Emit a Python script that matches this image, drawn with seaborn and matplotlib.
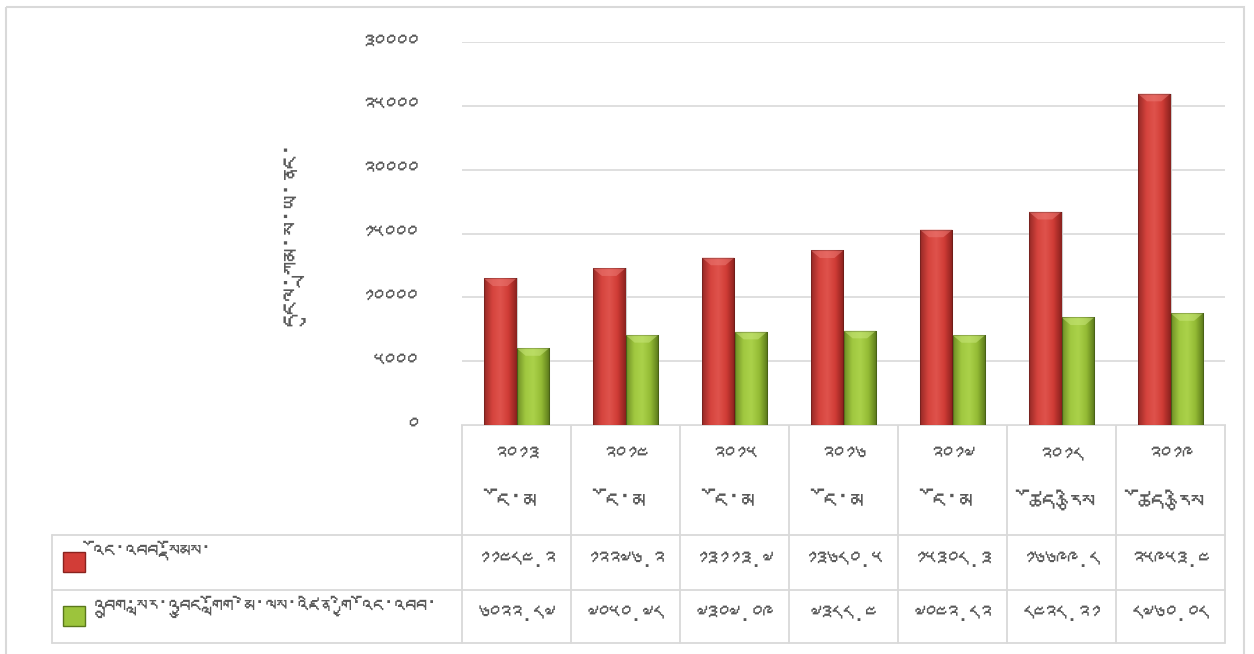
import numpy as np
import pandas as pd
import matplotlib
matplotlib.use("Agg")
import matplotlib.pyplot as plt
import seaborn as sns
from matplotlib import font_manager
from matplotlib.ft2font import FT2Font
from matplotlib.patches import Rectangle, Polygon
from matplotlib.colors import LinearSegmentedColormap
from matplotlib.ticker import FuncFormatter, MultipleLocator

# data (Nu. million)
years = ["༢༠༡༣", "༢༠༡༤", "༢༠༡༥", "༢༠༡༦", "༢༠༡༧", "༢༠༡༨", "༢༠༡༩"]
status = ["ངོ་མ", "ངོ་མ", "ངོ་མ", "ངོ་མ", "ངོ་མ", "ཚོད་རྩིས", "ཚོད་རྩིས"]
series_names = ["འོང་འབབ་སྡོམས་",
                "འབྲུག་སླར་འབྱུང་གློག་མེ་ལས་འཛིན་གྱི་འོང་འབབ་"]
total_revenue = [11484.2, 12276.2, 13113.7, 13680.5, 15308.3, 16699.8, 25953.4]
hydro_revenue = [6022.87, 7050.78, 7307.09, 7388.4, 7042.82, 8428.21, 8760.08]
y_label = "དངུལ་ཀྲམ་ས་ཡ་ནང་"

TIB = str.maketrans("0123456789", "༠༡༢༣༤༥༦༧༨༩")


def tibetan_family():
    # look for any installed font that has Tibetan letters
    for f in font_manager.fontManager.ttflist:
        try:
            if 0x0F40 in FT2Font(f.fname).get_charmap():
                return f.name
        except Exception:
            continue
    return None


df = pd.DataFrame({
    "year": years * 2,
    "value": total_revenue + hydro_revenue,
    "series": [series_names[0]] * len(years) + [series_names[1]] * len(years),
})

sns.set_style("white")
tib = tibetan_family()
fams = [tib, "DejaVu Sans"] if tib else ["DejaVu Sans"]
plt.rcParams["font.family"] = fams

W, H = 1254, 654
fig = plt.figure(figsize=(W / 100, H / 100), dpi=100)

# layout in pixels
plot_l, plot_r, plot_t, plot_b = 462, 1225, 42, 425
col_w = (plot_r - plot_l) / len(years)
ax = fig.add_axes([plot_l / W, 1 - plot_b / H, (plot_r - plot_l) / W, (plot_b - plot_t) / H])

red = "#d23d37"
green = "#9cc43c"
sns.barplot(data=df, x="year", y="value", hue="series", palette=[red, green],
            width=0.6, gap=0, legend=False, ax=ax, saturation=1)

shades = [["#962a26", "#d5433d", "#df534c", "#cf3b35", "#8a221e"],
          ["#6f8f25", "#a0c840", "#abd24a", "#93ba34", "#5a781b"]]
tops = ["#ec7a74", "#c8e67a"]
for cont, sh, top in zip(ax.containers, shades, tops):
    cmap = LinearSegmentedColormap.from_list("", sh)
    for bar in cont:
        x0, w, h = bar.get_x(), bar.get_width(), bar.get_height()
        img = ax.imshow(np.linspace(0, 1, 64).reshape(1, -1), cmap=cmap, aspect="auto",
                        extent=[x0, x0 + w, 0, h], zorder=3, interpolation="bicubic")
        img.set_clip_path(bar)
        d = 600
        ax.add_patch(Polygon([(x0, h), (x0 + w, h), (x0 + w * 0.72, h - d), (x0 + w * 0.28, h - d)],
                             closed=True, facecolor=top, edgecolor="none", alpha=0.55, zorder=4))
        ax.add_patch(Rectangle((x0, 0), w, h, facecolor="none", edgecolor="#00000033", lw=0.8, zorder=5))

ax.set_xlim(-0.5, len(years) - 0.5)
ax.set_ylim(0, 30000)
ax.yaxis.set_major_locator(MultipleLocator(5000))
ax.yaxis.set_major_formatter(FuncFormatter(lambda v, p: str(int(v)).translate(TIB)))
ax.yaxis.grid(True, color="#d9d9d9", lw=1.2)
ax.set_axisbelow(True)
ax.tick_params(axis="y", length=0, pad=32, labelsize=16, labelcolor="#595959")
ax.set_xticks([])
ax.set_xlabel("")
ax.set_ylabel(y_label, fontsize=19, color="#595959")
ax.yaxis.set_label_coords((305 - plot_l) / (plot_r - plot_l), 0.5)
sns.despine(ax=ax, left=True, bottom=True)

# data table in pixel coordinates
tab = fig.add_axes([0, 0, 1, 1], zorder=-1)
tab.set_xlim(0, W)
tab.set_ylim(H, 0)
tab.axis("off")
line = dict(color="#d9d9d9", lw=1.3)
row_y = [plot_b, 535, 590, 643]
leg_l = 52
tab.plot([plot_l, plot_r], [row_y[0], row_y[0]], **line)
for yy in row_y[1:]:
    tab.plot([leg_l, plot_r], [yy, yy], **line)
tab.plot([leg_l, leg_l], [row_y[1], row_y[3]], **line)
for i in range(len(years) + 1):
    xx = plot_l + i * col_w
    tab.plot([xx, xx], [row_y[0], row_y[3]], **line)

txt = dict(ha="center", va="center", color="#595959")
for i, (yr, st) in enumerate(zip(years, status)):
    cx = plot_l + (i + 0.5) * col_w
    tab.text(cx, 456, yr, fontsize=16, **txt)
    tab.text(cx, 505, st, fontsize=19, **txt)
    tab.text(cx, 561, str(total_revenue[i]).translate(TIB), fontsize=16, **txt)
    tab.text(cx, 615, str(hydro_revenue[i]).translate(TIB), fontsize=16, **txt)

for k, (name, c, ec) in enumerate(zip(series_names, [red, green], ["#8a221e", "#5a781b"])):
    yc = (row_y[k + 1] + row_y[k + 2]) / 2
    tab.add_patch(Rectangle((63, yc - 11), 22, 20, facecolor=c, edgecolor=ec, lw=1))
    tab.text(94, yc - 10, name, fontsize=15.5, ha="left", va="center", color="#595959")

# outer chart border
tab.add_patch(Rectangle((6, 7), 1238, 700, facecolor="none", edgecolor="#d9d9d9", lw=1.5, clip_on=False))

fig.savefig("out.png", dpi=100, facecolor="white")
